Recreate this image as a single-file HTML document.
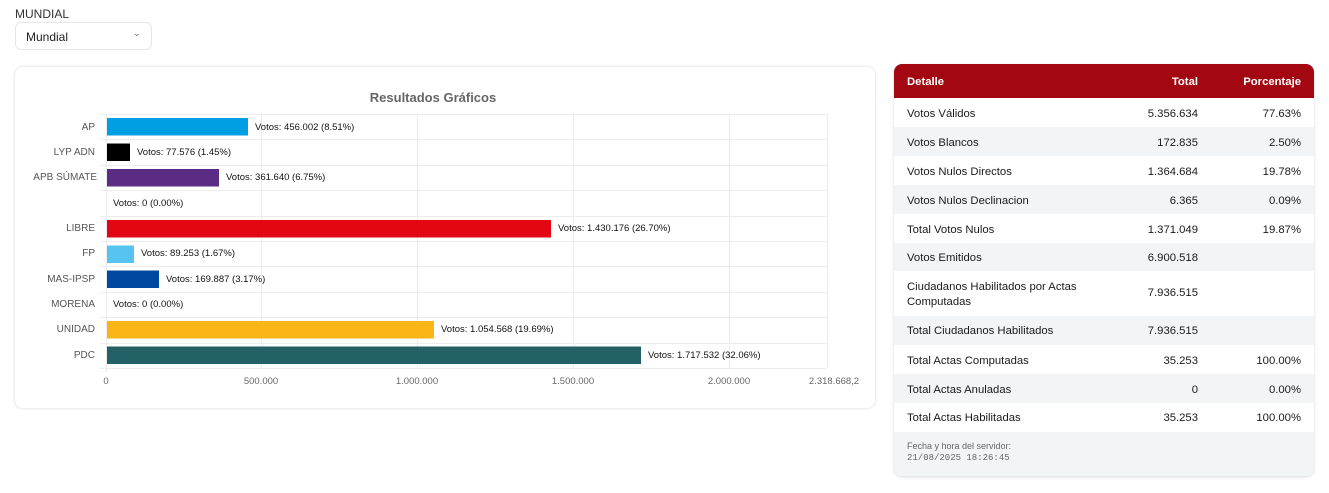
<!DOCTYPE html>
<html><head><meta charset="utf-8"><style>
body{margin:0;width:1329px;height:493px;background:#fff;font-family:"Liberation Sans",sans-serif;position:relative;overflow:hidden}
.lbl{position:absolute;left:15px;top:7px;font-size:12px;color:#333}
.sel{position:absolute;left:15px;top:22px;width:137px;height:28px;border:1px solid #e5e7eb;border-radius:6px;box-sizing:border-box;font-size:12px;color:#222;padding:7px 0 0 10px}
.card{position:absolute;left:15px;top:67px;width:860px;height:341px;border-radius:8px;box-shadow:0 0 3px rgba(0,0,0,.18);background:#fff}
.tbl{position:absolute;left:894px;top:64px;width:420px;height:412px;border-radius:8px;overflow:hidden;box-shadow:0 1px 3px rgba(0,0,0,.15);background:#f3f4f6;font-size:11.3px;color:#1a1a1a}
.r{position:absolute;left:0;width:420px;box-sizing:border-box}
.r span{position:absolute}
.hd{background:#a30711;color:#fff;font-weight:bold;height:34px;top:0}
.g{background:#f3f4f6}.w{background:#fff}
</style></head><body>
<div class="lbl">MUNDIAL</div>
<div class="sel">Mundial<span style="position:absolute;left:117px;top:5px;font-size:9px;color:#666">&#8964;</span></div>
<div class="card"></div>
<svg style="position:absolute;left:0;top:0" width="880" height="420" font-family="Liberation Sans, sans-serif">
<text x="433" y="102" text-anchor="middle" font-size="13" font-weight="bold" fill="#666">Resultados Gráficos</text>
<g stroke="#ececec" stroke-width="1">
<line x1="261.5" y1="114" x2="261.5" y2="368"/><line x1="417.5" y1="114" x2="417.5" y2="368"/><line x1="573.5" y1="114" x2="573.5" y2="368"/><line x1="729.5" y1="114" x2="729.5" y2="368"/><line x1="827.5" y1="114" x2="827.5" y2="368"/>
<line x1="100" y1="114.5" x2="827" y2="114.5"/><line x1="100" y1="139.5" x2="827" y2="139.5"/><line x1="100" y1="165.5" x2="827" y2="165.5"/><line x1="100" y1="190.5" x2="827" y2="190.5"/><line x1="100" y1="216.5" x2="827" y2="216.5"/><line x1="100" y1="241.5" x2="827" y2="241.5"/><line x1="100" y1="266.5" x2="827" y2="266.5"/><line x1="100" y1="292.5" x2="827" y2="292.5"/><line x1="100" y1="317.5" x2="827" y2="317.5"/><line x1="100" y1="343.5" x2="827" y2="343.5"/><line x1="100" y1="368.5" x2="827" y2="368.5"/>
<line x1="106.5" y1="114" x2="106.5" y2="372"/>
</g>
<g font-size="10" fill="#555" text-anchor="end">
<text x="95" y="130">AP</text><text x="95" y="155">LYP ADN</text><text x="97" y="180">APB SÚMATE</text><text x="95" y="231">LIBRE</text><text x="95" y="256">FP</text><text x="95" y="282">MAS-IPSP</text><text x="95" y="307">MORENA</text><text x="95" y="332">UNIDAD</text><text x="95" y="358">PDC</text>
</g>
<g>
<rect x="107" y="118" width="141" height="17.5" fill="#009ee2"/>
<rect x="107" y="143.5" width="23" height="17.5" fill="#000"/>
<rect x="107" y="169" width="112" height="17.5" fill="#5b2c83"/>
<rect x="107" y="220" width="444" height="17.5" fill="#e30613"/>
<rect x="107" y="245.5" width="27" height="17.5" fill="#56c3f0"/>
<rect x="107" y="270.5" width="52" height="17.5" fill="#0047a0"/>
<rect x="107" y="321" width="327" height="17.5" fill="#fbb516"/>
<rect x="107" y="346.5" width="534" height="17.5" fill="#246167"/>
</g>
<g font-size="9.5" fill="#111">
<text x="255" y="130">Votos: 456.002 (8.51%)</text>
<text x="137" y="155">Votos: 77.576 (1.45%)</text>
<text x="226" y="180">Votos: 361.640 (6.75%)</text>
<text x="113" y="206">Votos: 0 (0.00%)</text>
<text x="558" y="231">Votos: 1.430.176 (26.70%)</text>
<text x="141" y="256">Votos: 89.253 (1.67%)</text>
<text x="166" y="282">Votos: 169.887 (3.17%)</text>
<text x="113" y="307">Votos: 0 (0.00%)</text>
<text x="441" y="332">Votos: 1.054.568 (19.69%)</text>
<text x="648" y="358">Votos: 1.717.532 (32.06%)</text>
</g>
<g font-size="9.5" fill="#666" text-anchor="middle">
<text x="106" y="384">0</text><text x="261" y="384">500.000</text><text x="417" y="384">1.000.000</text><text x="573" y="384">1.500.000</text><text x="729" y="384">2.000.000</text><text x="834" y="384">2.318.668,2</text>
</g>
</svg>
<div class="tbl">
<div class="r hd"><span style="left:13px;top:12px">Detalle</span><span style="right:116px;top:12px">Total</span><span style="right:13px;top:12px">Porcentaje</span></div>
<div class="r w" style="top:34px;height:29px"><span style="left:13px;top:10px">Votos Válidos</span><span style="right:116px;top:10px">5.356.634</span><span style="right:13px;top:10px">77.63%</span></div>
<div class="r g" style="top:63px;height:29px"><span style="left:13px;top:10px">Votos Blancos</span><span style="right:116px;top:10px">172.835</span><span style="right:13px;top:10px">2.50%</span></div>
<div class="r w" style="top:92px;height:29px"><span style="left:13px;top:10px">Votos Nulos Directos</span><span style="right:116px;top:10px">1.364.684</span><span style="right:13px;top:10px">19.78%</span></div>
<div class="r g" style="top:121px;height:29px"><span style="left:13px;top:10px">Votos Nulos Declinacion</span><span style="right:116px;top:10px">6.365</span><span style="right:13px;top:10px">0.09%</span></div>
<div class="r w" style="top:150px;height:29px"><span style="left:13px;top:10px">Total Votos Nulos</span><span style="right:116px;top:10px">1.371.049</span><span style="right:13px;top:10px">19.87%</span></div>
<div class="r g" style="top:179px;height:28px"><span style="left:13px;top:9px">Votos Emitidos</span><span style="right:116px;top:9px">6.900.518</span></div>
<div class="r w" style="top:207px;height:45px"><span style="left:13px;top:9px;line-height:15px">Ciudadanos Habilitados por Actas<br>Computadas</span><span style="right:116px;top:16px">7.936.515</span></div>
<div class="r g" style="top:252px;height:29px"><span style="left:13px;top:9px">Total Ciudadanos Habilitados</span><span style="right:116px;top:9px">7.936.515</span></div>
<div class="r w" style="top:281px;height:29px"><span style="left:13px;top:10px">Total Actas Computadas</span><span style="right:116px;top:10px">35.253</span><span style="right:13px;top:10px">100.00%</span></div>
<div class="r g" style="top:310px;height:29px"><span style="left:13px;top:10px">Total Actas Anuladas</span><span style="right:116px;top:10px">0</span><span style="right:13px;top:10px">0.00%</span></div>
<div class="r w" style="top:339px;height:29px"><span style="left:13px;top:9px">Total Actas Habilitadas</span><span style="right:116px;top:9px">35.253</span><span style="right:13px;top:9px">100.00%</span></div>
<div class="r g" style="top:368px;height:44px;font-size:9px;color:#666"><span style="left:13px;top:9px">Fecha y hora del servidor:</span><span style="left:13px;top:21px;font-family:'Liberation Mono',monospace">21/08/2025 18:26:45</span></div>
</div>
</body></html>
